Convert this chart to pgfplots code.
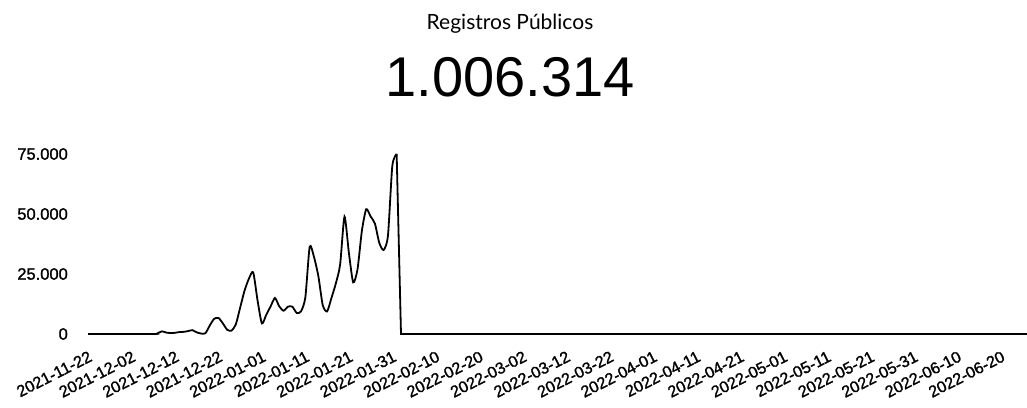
\documentclass[border=0pt]{standalone}
\usepackage{pgfplots}
\pgfplotsset{compat=1.18}
\usepackage{fontspec}
\setmainfont{Liberation Sans}
\newfontfamily\lato{Lato}
\newfontface\tickfont[FakeBold=1.4]{Liberation Sans}
\begin{document}
\begin{tikzpicture}
\useasboundingbox (0,0) rectangle (1027bp,408bp);
\node[anchor=base, inner sep=0] at (510bp,378bp) {\lato\fontsize{21bp}{24bp}\selectfont Registros Públicos};
\node[anchor=base, inner sep=0] at (510bp,311bp) {\fontsize{56bp}{60bp}\selectfont 1.006.314};
\begin{axis}[
  at={(88bp,74bp)}, anchor=south west,
  scale only axis, width=939bp, height=180bp,
  xmin=0, xmax=216, ymin=0, ymax=75000,
  clip=false,
  axis line style={draw=none},
  major tick length=0pt,
  scaled y ticks=false,
  ytick={0,25000,50000,75000},
  yticklabels={0,25.000,50.000,75.000},
  xtick={0,10,...,210},
  xticklabels={2021-11-22,2021-12-02,2021-12-12,2021-12-22,2022-01-01,2022-01-11,2022-01-21,2022-01-31,2022-02-10,2022-02-20,2022-03-02,2022-03-12,2022-03-22,2022-04-01,2022-04-11,2022-04-21,2022-05-01,2022-05-11,2022-05-21,2022-05-31,2022-06-10,2022-06-20},
  tick label style={inner sep=0pt},
  yticklabel style={font=\tickfont\fontsize{16.5bp}{19bp}\selectfont, anchor=east, xshift=-20bp},
  xticklabel style={font=\tickfont\fontsize{16.2bp}{19bp}\selectfont, yshift=-16bp, rotate=27, anchor=north east},
]
\addplot[black, line width=1.8bp, smooth, tension=0.4] coordinates {
(0,0) (15,0) (16,300) (17,1100) (18,600) (19,400) (20,500) (21,800) (22,900) (23,1200) (24,1600) (25,700) (26,200) (27,300)
(28,3500) (29,6300) (30,6700) (31,4500) (32,1800) (33,1400) (34,4000) (35,11000) (36,18000) (37,23000) (38,25700)
(39,14000) (40,4400) (41,8000) (42,11500) (43,15000) (44,11500) (45,9700) (46,11400) (47,11400) (48,8800) (49,9400)
(50,15300) (51,36400) (52,32000) (53,24000) (54,12000) (55,9400) (56,15000) (57,21000) (58,29000) (59,48900)
(60,34000) (61,21500) (62,27000) (63,43000) (64,52000) (65,49000) (66,46000) (67,38000) (68,35000) (69,41000)
(70,70000) (71,75000)
};
\addplot[black, line width=1.8bp] coordinates {(71,75000) (72,0) (216,0)};
\end{axis}
\end{tikzpicture}
\end{document}
